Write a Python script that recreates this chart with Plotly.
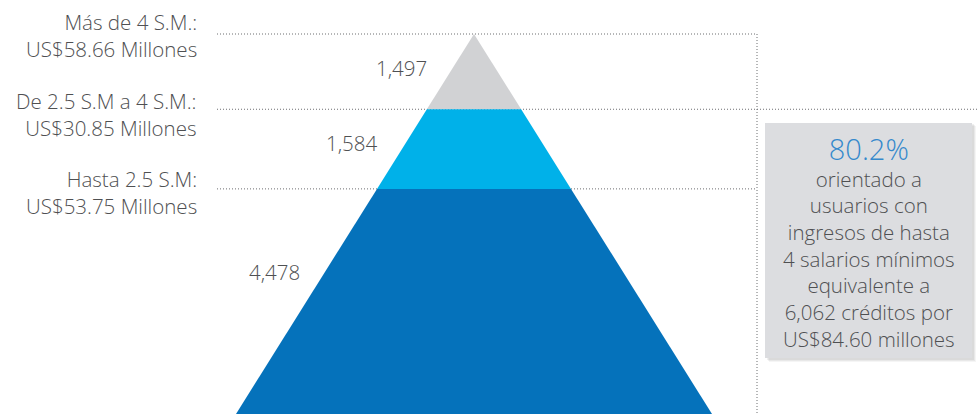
import plotly.graph_objects as go

# ---- data ----
categorias = ["Más de 4 S.M.:", "De 2.5 S.M a 4 S.M.:", "Hasta 2.5 S.M:"]
montos = ["US$58.66 Millones", "US$30.85 Millones", "US$53.75 Millones"]
creditos = [1497, 1584, 4478]
colores = ["#d1d2d4", "#00b1e9", "#0572bb"]
resumen_pct = "80.2%"
resumen_lineas = ["orientado a", "usuarios con", "ingresos de hasta",
                  "4 salarios mínimos", "equivalente a",
                  "6,062 créditos por", "US$84.60 millones"]

W, H = 979, 414
FONT = "Open Sans"
FS = 20.5
WT = 300
TXT = "#4f5052"
total = sum(creditos)

# axis: y in credit units (apex = 0 at top, base = total at bottom)
apex_px, base_px = 34, 414
units_per_px = total / (base_px - apex_px)
y_top = -apex_px * units_per_px
cx = 474
half_base = 238


def hw(c):
    return half_base * c / total


fig = go.Figure()
cum = 0
for n, col in zip(creditos, colores):
    c0, c1 = cum, cum + n
    xs = [cx - hw(c0), cx + hw(c0), cx + hw(c1), cx - hw(c1), cx - hw(c0)]
    ys = [c0, c0, c1, c1, c0]
    fig.add_trace(go.Scatter(x=xs, y=ys, fill="toself", fillcolor=col,
                             mode="lines", line=dict(width=0, color=col),
                             hoverinfo="skip", showlegend=False))
    cum = c1

# boundaries
bounds = [0, creditos[0], creditos[0] + creditos[1]]
dot = dict(color="#6d6e71", width=1, dash="1px,2px")
shapes = []
for i, b in enumerate(bounds):
    x1 = W if i == 1 else 757
    shapes.append(dict(type="line", xref="x", yref="y", x0=217, x1=x1, y0=b, y1=b,
                       line=dot, layer="below"))
shapes.append(dict(type="line", xref="x", yref="y", x0=757, x1=757, y0=0, y1=total,
                   line=dot, layer="below"))

# summary box with soft shadow
bx0, bx1, by0, by1 = 765, 972, 123, 358


def py(p):
    return 1 - p / H


for off, op in [(4, 0.04), (3, 0.05), (2, 0.06)]:
    shapes.append(dict(type="rect", xref="x", yref="paper", x0=bx0 + off, x1=bx1 + off,
                       y0=py(by1 + off), y1=py(by0 + off - 1),
                       fillcolor=f"rgba(0,0,0,{op})", line=dict(width=0)))
shapes.append(dict(type="rect", xref="x", yref="paper", x0=bx0, x1=bx1,
                   y0=py(by1), y1=py(by0), fillcolor="#dcdde0", line=dict(width=0)))

ann = []
# left labels (two lines each)
label_px = [35, 114, 192]
for cat, mon, p in zip(categorias, montos, label_px):
    ann.append(dict(x=199, y=py(p), xref="x", yref="paper", text=f"{cat}<br>{mon}",
                    showarrow=False, xanchor="right", yanchor="middle", align="right",
                    font=dict(family=FONT, size=FS, color=TXT, weight=WT)))
# value labels
val_pos = [(401, 68), (352, 143), (274, 272)]
for n, (x, p) in zip(creditos, val_pos):
    ann.append(dict(x=x, y=py(p), xref="x", yref="paper", text=f"{n:,}", showarrow=False,
                    xanchor="center", yanchor="middle",
                    font=dict(family=FONT, size=FS, color=TXT, weight=WT)))
# box text (single block: big blue percentage + description)
bcx = (bx0 + bx1) / 2
box_text = (f'<span style="font-size:29px;color:#3589cc">{resumen_pct}</span><br>'
            + "<br>".join(resumen_lineas))
ann.append(dict(x=bcx, y=py(241), xref="x", yref="paper", text=box_text,
                showarrow=False, xanchor="center", yanchor="middle", align="center",
                font=dict(family=FONT, size=FS, color=TXT, weight=WT)))

fig.update_layout(
    width=W, height=H, margin=dict(l=0, r=0, t=0, b=0),
    paper_bgcolor="white", plot_bgcolor="white",
    xaxis=dict(range=[0, W], visible=False, fixedrange=True),
    yaxis=dict(range=[total, y_top], visible=False, fixedrange=True),
    shapes=shapes, annotations=ann, showlegend=False,
)
fig.write_html("out.html", config={"displayModeBar": False},
               post_script="document.body.style.margin='0';document.body.style.overflow='hidden';")
